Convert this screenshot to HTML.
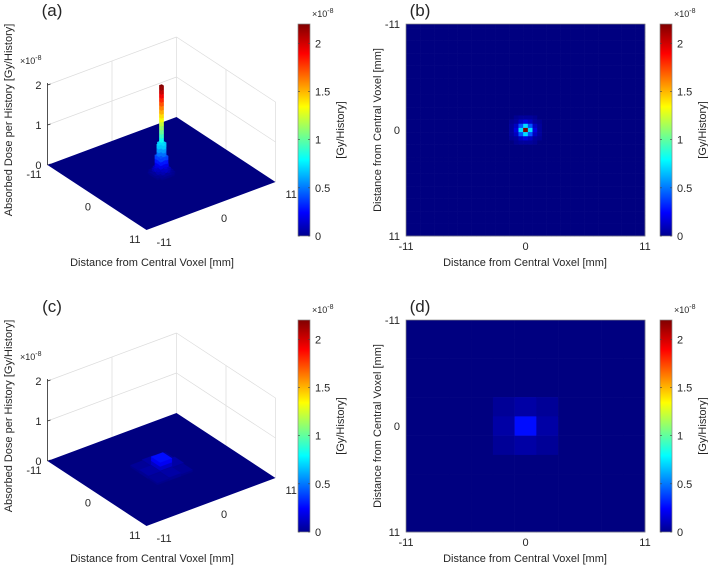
<!DOCTYPE html>
<html><head><meta charset="utf-8">
<style>
html,body{margin:0;padding:0;background:#fff;}
svg{display:block;font-family:"Liberation Sans",sans-serif;}
text{fill:#262626;}
</style></head>
<body>
<svg id="fig" width="708" height="566" viewBox="0 0 708 566">
<defs>
<linearGradient id="jetg" x1="0" y1="1" x2="0" y2="0">
<stop offset="0" stop-color="#00008f"/><stop offset="0.11" stop-color="#0000ff"/>
<stop offset="0.36" stop-color="#00ffff"/><stop offset="0.61" stop-color="#ffff00"/>
<stop offset="0.86" stop-color="#ff0000"/><stop offset="1" stop-color="#800000"/>
</linearGradient>
</defs>
</svg>
<script>
// ---- data ----
const fineGridN = 51;             // 0.43 mm voxels, panels (a),(b)
const fineRadius = [0, 1, 1.42, 2, 2.24, 2.83, 3, 3.61];
const fineDose   = [2.2, 0.75, 0.45, 0.2, 0.14, 0.09, 0.06, 0.04];
const coarseGridN = 11;           // 2 mm voxels, panels (c),(d)
const coarseRadius = [0, 1, 1.42];
const coarseDose   = [0.3, 0.08, 0.05];
const backgroundDose = 0.0;
const colorbarTicks = [0, 0.5, 1, 1.5, 2];
const zTicks = [0, 1, 2];
const axisTickLabels = ["-11", "0", "11"];
const doseMax = 2.2;

const svg = document.getElementById('fig');
const NS = 'http://www.w3.org/2000/svg';
function mk(tag, attrs, parent){const e=document.createElementNS(NS,tag);for(const k in attrs)e.setAttribute(k,attrs[k]);(parent||svg).appendChild(e);return e;}
function txt(x,y,s,size,anchor,parent,rot){const t=mk('text',{x:x,y:y,'font-size':size,'text-anchor':anchor||'middle'},parent);if(rot)t.setAttribute('transform','rotate(-90 '+x+' '+y+')');t.textContent=s;return t;}

function jet(v){
  let t=Math.max(0,Math.min(1,v/doseMax));
  const f=x=>Math.max(0,Math.min(1,x));
  const r=f(Math.min(4*t-1.5,-4*t+4.5)), g=f(Math.min(4*t-0.5,-4*t+3.5)), b=f(Math.min(4*t+0.5,-4*t+2.5));
  return 'rgb('+Math.round(r*255)+','+Math.round(g*255)+','+Math.round(b*255)+')';
}
function doseAt(i,j,n,radius,dose){
  const c=(n-1)/2, r=Math.hypot(i-c,j-c);
  let best=-1;
  for(let k=0;k<radius.length;k++){ if(Math.abs(radius[k]-r)<0.2) best=k; }
  return best>=0?dose[best]:backgroundDose;
}

function colorbar(oy, xOff, name){
  const g=mk('g',{},svg);
  
  
  const x=xOff, y0=oy+24, h=212, w=12;
  mk('rect',{x:x,y:y0,width:w,height:h,fill:'url(#jetg)',stroke:'#888','stroke-width':0.7},g);
  const ys=v=>y0+h-v/doseMax*h;
  colorbarTicks.forEach(v=>{
    const y=ys(v);
    mk('line',{x1:x,x2:x+2,y1:y,y2:y,stroke:'#444','stroke-width':0.6},g);
    mk('line',{x1:x+w-2,x2:x+w,y1:y,y2:y,stroke:'#444','stroke-width':0.6},g);
    txt(x+17,y+4,String(v),11,'start',g);
  });
  const e=txt(x+14,oy+17,'×10',9,'start',g);
  const s=mk('tspan',{dy:-4,'font-size':7},e); s.textContent='-8';
  txt(x+46,oy+130,'[Gy/History]',11,'middle',g,true);
}

function panel3D(oy, n, radius, dose, label, name){
  const g=mk('g',{},svg);
  
  
  const P=(a,b,z)=>[161.5+a*4.5+b*5.864, 173.5+oy+a*2.955-b*2.182-z*40];
  const pts=arr=>arr.map(p=>p[0].toFixed(1)+','+p[1].toFixed(1)).join(' ');
  const ln=(p,q,c,w)=>mk('line',{x1:p[0],y1:p[1],x2:q[0],y2:q[1],stroke:c,'stroke-width':w||0.7},g);
  const gc='#dcdcdc';
  [1,2].forEach(z=>{ln(P(-11,-11,z),P(-11,11,z),gc);ln(P(-11,11,z),P(11,11,z),gc);});
  ln(P(-11,0,0),P(-11,0,2),gc); ln(P(0,11,0),P(0,11,2),gc);
  ln(P(-11,11,0),P(-11,11,2),gc); ln(P(11,11,0),P(11,11,2),gc);
  ln(P(-11,-11,0),P(-11,-11,2.05),'#262626',0.8);
  zTicks.forEach(z=>{const p=P(-11,-11,z);ln(p,[p[0]+3,p[1]-1],'#262626',0.7);txt(p[0]-6,p[1]+4,String(z),11,'end',g);});
  const ze=txt(20,oy+64,'×10',9,'start',g); const zs=mk('tspan',{dy:-4,'font-size':7},ze); zs.textContent='-8';
  const floor=mk('polygon',{points:pts([P(-11,-11,0),P(11,-11,0),P(11,11,0),P(-11,11,0)]),fill:jet(backgroundDose)},g);
  
  
  const cell=22/n, cells=[];
  for(let i=0;i<n;i++)for(let j=0;j<n;j++){const v=doseAt(i,j,n,radius,dose);if(v>0.025)cells.push([i,j,v]);}
  cells.sort((A,B)=>(A[0]-A[1])-(B[0]-B[1]));
  cells.forEach(([i,j,v])=>{
    const a0=-11+i*cell,a1=a0+cell,b0=-11+j*cell,b1=b0+cell;
    const seg=Math.max(1,Math.ceil(v/0.1));
    for(let s=0;s<seg;s++){
      const z0=v*s/seg,z1=v*(s+1)/seg,c=jet((z0+z1)/2);
      mk('polygon',{points:pts([P(a1,b0,z0),P(a1,b1,z0),P(a1,b1,z1),P(a1,b0,z1)]),fill:c,stroke:c,'stroke-width':0.3},g);
      mk('polygon',{points:pts([P(a0,b0,z0),P(a1,b0,z0),P(a1,b0,z1),P(a0,b0,z1)]),fill:c,stroke:c,'stroke-width':0.3},g);
    }
    const c=jet(v);
    const top=mk('polygon',{points:pts([P(a0,b0,v),P(a1,b0,v),P(a1,b1,v),P(a0,b1,v)]),fill:c,stroke:c,'stroke-width':0.3},g);
    
    
  });
  [-11,0,11].forEach((a,k)=>{const p=P(a,-11,0);txt(p[0]-6,p[1]+13,axisTickLabels[k],11,'end',g);});
  [-11,0,11].forEach((b,k)=>{const p=P(11,b,0);txt(p[0]+10,p[1]+16,axisTickLabels[k],11,'start',g);});
  txt(152,oy+266,'Distance from Central Voxel [mm]',11,'middle',g);
  txt(12,oy+120,'Absorbed Dose per History [Gy/History]',11,'middle',g,true);
  txt(52,oy+16,label,17,'middle',g);
}

function panel2D(oy, n, radius, dose, label, name){
  const g=mk('g',{},svg);
  
  
  const x0=406,y0=oy+24,w=239,h=212,cw=w/n,ch=h/n;
  for(let i=0;i<n;i++)for(let j=0;j<n;j++){
    const c=jet(doseAt(i,j,n,radius,dose));
    const r=mk('rect',{x:(x0+i*cw).toFixed(2),y:(y0+j*ch).toFixed(2),width:(cw+0.3).toFixed(2),height:(ch+0.3).toFixed(2),fill:c},g);
    
    
  }
  mk('rect',{x:x0,y:y0,width:w,height:h,fill:'none',stroke:'#888','stroke-width':0.7},g);
  [0,0.5,1].forEach((f,k)=>{
    txt(x0+f*w,y0+h+14,axisTickLabels[k],11,'middle',g);
    txt(x0-6,y0+f*h+4,axisTickLabels[k],11,'end',g);
  });
  txt(525,oy+266,'Distance from Central Voxel [mm]',11,'middle',g);
  txt(381,oy+130,'Distance from Central Voxel [mm]',11,'middle',g,true);
  txt(420,oy+16,label,17,'middle',g);
}

panel3D(0, fineGridN, fineRadius, fineDose, '(a)', 'panel-a-surface');
colorbar(0, 298, 'colorbar-a');
panel2D(0, fineGridN, fineRadius, fineDose, '(b)', 'panel-b-heatmap');
colorbar(0, 660, 'colorbar-b');
panel3D(296, coarseGridN, coarseRadius, coarseDose, '(c)', 'panel-c-surface');
colorbar(296, 298, 'colorbar-c');
panel2D(296, coarseGridN, coarseRadius, coarseDose, '(d)', 'panel-d-heatmap');
colorbar(296, 660, 'colorbar-d');
</script>
</body></html>
